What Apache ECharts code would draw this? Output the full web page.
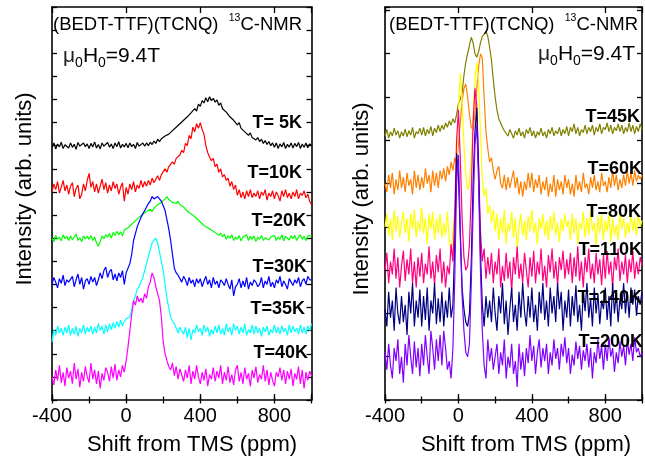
<!DOCTYPE html>
<html><head><meta charset="utf-8">
<script src="https://cdn.jsdelivr.net/npm/echarts@6/dist/echarts.min.js"></script>
<style>html,body{margin:0;padding:0;background:#fff}#c{width:645px;height:464px}</style>
</head><body><div id="c"></div>
<script>
// ---------- data ----------
const xTickLabels = ['-400', '0', '400', '800'];

// chemical shift (ppm), shared by both panels
const shift = [-400,-390,-380,-370,-360,-350,-340,-330,-320,-310,
  -300,-290,-280,-270,-260,-250,-240,-230,-220,-210,
  -200,-190,-180,-170,-160,-150,-140,-130,-120,-110,
  -100,-90,-80,-70,-60,-50,-40,-30,-20,-10,
  0,10,20,30,40,50,60,70,80,90,
  100,110,120,130,140,150,160,170,180,190,
  200,210,220,230,240,250,260,270,280,290,
  300,310,320,330,340,350,360,370,380,390,
  400,410,420,430,440,450,460,470,480,490,
  500,510,520,530,540,550,560,570,580,590,
  600,610,620,630,640,650,660,670,680,690,
  700,710,720,730,740,750,760,770,780,790,
  800,810,820,830,840,850,860,870,880,890,
  900,910,920,930,940,950,960,970,980,990,
  1000];

const labelsL = ['T= 5K', 'T=10K', 'T=20K', 'T=30K', 'T=35K', 'T=40K'];

const t5K = [10.93,11.12,10.86,11.07,10.95,11.15,10.88,11.04,11.1,10.9,
  11.12,10.93,11.06,10.84,11.14,10.98,10.91,11.12,10.96,11.08,
  10.88,11.1,10.95,11.16,10.9,11.05,10.86,11.12,10.98,10.92,
  11.14,10.94,11.07,10.88,11.12,10.96,11.17,10.9,11.06,10.95,
  11.1,10.91,11.12,10.96,11.06,10.88,11.14,10.98,10.94,11.12,
  10.98,11.12,11.0,11.15,11.05,11.2,11.1,11.28,11.18,11.3,
  11.25,11.42,11.35,11.5,11.45,11.65,11.58,11.8,11.72,11.95,
  11.9,12.1,12.05,12.25,12.2,12.42,12.35,12.6,12.5,12.8,
  12.7,12.95,12.85,13.08,12.9,13.12,12.95,13.05,12.88,12.98,
  12.75,12.85,12.6,12.68,12.45,12.5,12.25,12.32,12.1,12.15,
  11.9,12.0,11.75,11.82,11.6,11.65,11.45,11.55,11.35,11.42,
  11.25,11.35,11.18,11.28,11.1,11.22,11.05,11.18,11.0,11.12,
  10.93,11.12,10.88,11.08,10.95,11.14,10.88,11.06,10.94,11.12,
  10.9,11.1,10.96,11.14,10.88,11.07,10.93,11.12,10.91,11.08,
  11.0];
const t10K = [9.0,9.35,9.1,9.45,8.95,9.2,9.5,9.05,9.3,8.9,
  9.25,9.4,8.8,9.15,9.3,8.7,8.9,9.35,9.05,9.5,
  9.8,9.2,9.45,9.0,9.35,8.95,9.25,9.55,9.1,9.4,
  8.95,9.3,9.05,9.45,9.15,9.35,8.9,9.2,9.4,8.6,
  9.2,8.9,9.35,9.1,9.45,9.0,9.3,9.15,9.5,9.2,
  9.45,9.25,9.5,9.3,9.6,9.4,9.55,9.7,9.5,9.75,
  9.7,10.0,9.85,10.1,10.05,10.3,10.2,10.45,10.4,10.6,
  10.8,10.7,11.1,11.0,11.45,11.3,11.8,11.6,11.95,11.75,
  12.0,11.7,11.5,11.0,10.7,10.5,10.35,10.45,10.1,10.2,
  9.85,10.0,9.65,9.75,9.5,9.6,9.25,9.45,9.1,9.3,
  8.85,9.1,8.75,9.0,8.7,9.05,8.8,9.1,8.75,8.95,
  8.8,9.05,8.7,9.0,8.85,9.1,8.65,8.95,8.8,9.05,
  8.7,9.0,8.85,8.6,9.05,8.8,9.1,8.75,8.95,8.7,
  9.0,8.8,9.1,8.7,8.95,8.85,9.05,8.75,8.9,8.6,
  8.45];
const t20K = [7.0,6.85,7.12,6.95,7.05,6.88,7.15,6.98,7.08,6.9,
  7.1,6.92,7.05,7.18,6.9,7.02,6.85,7.1,6.97,7.08,
  6.95,7.12,6.9,7.05,6.8,6.65,6.85,7.1,6.98,7.15,
  7.05,7.2,7.0,7.25,7.12,7.3,7.15,7.28,7.1,7.35,
  7.3,7.45,7.4,7.6,7.55,7.75,7.7,7.9,7.95,8.05,
  8.0,8.15,8.1,8.25,8.15,8.3,8.25,8.45,8.4,8.55,
  8.6,8.7,8.8,8.68,8.75,8.55,8.62,8.5,8.6,8.45,
  8.4,8.35,8.25,8.3,8.1,8.15,8.0,8.05,7.85,7.9,
  7.7,7.75,7.55,7.62,7.45,7.52,7.35,7.42,7.25,7.32,
  7.12,7.22,7.05,7.18,6.95,7.1,7.0,7.15,6.9,7.05,
  6.95,7.12,6.88,7.05,6.98,7.15,6.9,7.08,6.95,7.1,
  6.85,7.05,6.95,7.12,6.9,7.02,7.1,6.92,7.05,6.98,
  7.12,6.9,7.05,6.95,7.15,6.88,7.08,7.0,6.92,7.1,
  6.98,7.12,6.9,7.05,7.15,6.95,7.08,6.9,7.1,7.02,
  7.1];
const t30K = [5.0,5.3,5.1,4.85,5.25,5.05,5.4,4.95,5.2,5.1,
  5.05,5.35,4.9,5.2,5.45,5.0,5.3,4.8,5.15,5.25,
  5.0,5.35,5.1,5.3,4.95,5.2,5.5,5.25,5.6,5.75,
  5.3,5.55,5.65,5.2,5.45,5.15,5.5,5.3,5.6,5.0,
  5.5,5.7,5.9,6.3,6.9,7.2,7.5,7.7,7.9,8.05,
  8.2,8.35,8.5,8.6,8.8,8.7,8.65,8.8,8.7,8.6,
  8.4,8.2,7.8,7.4,6.9,6.3,5.7,5.5,5.4,5.25,
  5.1,5.35,5.2,4.95,5.3,5.05,5.2,4.9,5.25,5.05,
  5.25,4.9,5.15,5.35,5.0,5.2,4.85,5.3,5.0,5.15,
  4.85,5.2,5.1,4.95,5.25,5.0,4.8,5.2,4.5,4.9,
  5.0,5.25,4.85,5.15,4.9,5.3,4.8,5.1,4.95,5.2,
  5.1,4.9,5.0,5.3,4.85,5.15,5.0,5.35,4.9,5.1,
  4.85,5.2,5.05,5.35,4.9,5.15,5.0,4.8,5.25,5.1,
  4.95,5.2,5.05,5.3,4.9,5.15,5.25,5.0,5.35,5.2,
  5.2];
const t35K = [2.5,3.05,2.8,3.2,2.9,3.1,2.8,3.15,2.9,3.25,
  2.8,3.1,2.85,3.2,2.75,3.1,2.9,3.25,2.85,3.15,
  2.95,3.2,2.85,3.15,2.9,3.3,3.0,3.2,2.85,3.25,
  2.95,3.3,3.05,3.35,3.1,3.4,3.15,3.45,3.2,3.4,
  3.5,3.45,3.6,3.9,4.3,4.5,4.8,4.9,5.1,5.3,
  5.6,5.9,6.2,6.5,6.8,6.9,7.0,6.8,6.4,6.0,
  5.6,5.0,4.4,4.0,3.6,3.4,3.3,3.1,2.9,3.15,
  3.2,2.85,3.15,2.7,3.1,2.6,3.05,2.9,3.25,2.95,
  3.1,2.8,3.25,2.95,3.15,2.75,3.05,2.85,3.2,2.9,
  3.25,2.85,3.1,2.8,3.3,2.95,3.15,2.8,3.3,3.0,
  3.2,2.85,3.15,2.9,3.3,2.8,3.05,2.9,3.25,2.85,
  3.2,2.9,3.1,2.75,3.15,2.95,3.2,2.8,3.05,2.9,
  3.25,2.9,3.15,2.85,3.2,2.95,3.1,2.8,3.25,2.9,
  3.2,2.95,3.1,2.85,3.25,2.9,3.15,2.85,3.2,3.0,
  3.3];
const t40K = [1.0,0.65,1.3,0.85,1.5,0.75,1.2,0.6,1.4,0.95,
  1.25,0.7,1.6,0.9,1.35,0.55,1.2,0.8,1.45,1.0,
  0.75,1.6,0.9,1.3,0.7,1.25,0.5,1.15,0.85,1.4,
  1.2,0.8,1.45,0.95,1.55,0.85,1.3,1.0,1.5,1.2,
  1.7,2.3,3.0,3.7,4.3,4.1,4.5,4.25,4.4,4.2,
  4.6,4.4,4.9,5.1,5.5,5.3,4.9,4.6,4.3,3.6,
  2.5,2.0,1.7,1.45,1.3,1.6,1.05,1.45,0.9,1.35,
  1.4,0.8,1.3,0.95,1.5,0.7,1.25,0.9,1.5,1.0,
  0.7,1.2,0.85,1.35,0.6,1.1,0.9,1.4,0.8,1.25,
  0.95,1.5,0.7,1.2,0.85,1.45,0.75,1.1,0.65,1.3,
  1.5,0.8,1.2,0.7,1.4,0.9,1.15,0.6,1.3,0.95,
  1.45,0.75,1.1,0.9,1.5,0.8,1.3,0.65,1.2,0.85,
  0.6,1.2,1.0,1.4,0.85,1.3,0.7,1.25,0.9,1.35,
  0.6,1.15,0.9,1.45,0.7,1.3,0.5,1.2,0.85,1.25,
  1.05];

const labelsR = ['T=45K', 'T=60K', 'T=80K', 'T=110K', 'T=140K', 'T=200K'];

const t45K = [6.1,6.25,6.05,6.2,6.1,6.28,6.12,6.22,6.05,6.2,
  6.1,6.26,6.08,6.22,6.12,6.3,6.05,6.2,6.15,6.28,
  6.12,6.3,6.1,6.25,6.15,6.32,6.1,6.28,6.18,6.35,
  6.2,6.35,6.25,6.4,6.3,6.45,6.35,6.5,6.4,6.6,
  6.85,6.95,7.1,7.5,7.8,8.0,8.2,8.38,8.25,8.0,
  7.92,8.05,8.25,8.4,8.45,8.52,8.4,8.15,7.85,7.4,
  7.0,6.7,6.5,6.4,6.3,6.22,6.2,6.1,6.25,6.15,
  6.05,6.22,6.12,6.28,6.1,6.2,6.05,6.25,6.15,6.3,
  6.1,6.22,6.05,6.2,6.12,6.28,6.1,6.2,6.05,6.25,
  6.15,6.3,6.1,6.22,6.15,6.3,6.1,6.25,6.15,6.32,
  6.1,6.3,6.2,6.38,6.15,6.3,6.1,6.25,6.18,6.35,
  6.15,6.3,6.2,6.35,6.12,6.3,6.2,6.38,6.15,6.3,
  6.25,6.4,6.2,6.35,6.15,6.3,6.22,6.38,6.2,6.35,
  6.15,6.3,6.2,6.4,6.2,6.35,6.15,6.32,6.2,6.38,
  6.25];
const t60K = [5.0,4.8,5.2,4.9,5.25,4.75,5.1,4.85,5.3,4.9,
  5.15,4.8,5.25,4.95,5.1,4.75,5.3,4.9,5.2,4.85,
  5.15,4.9,5.35,5.0,5.2,4.8,5.3,4.95,5.25,4.9,
  5.3,5.1,5.35,5.05,5.4,5.2,5.5,5.3,5.6,5.45,
  5.9,6.4,6.9,7.2,7.3,7.0,6.6,6.3,6.25,6.6,
  7.2,7.7,8.0,7.9,7.0,6.2,5.8,5.5,5.6,5.3,
  5.1,5.3,5.4,5.0,4.9,5.2,4.85,5.15,4.9,5.1,
  5.3,4.9,5.15,4.75,5.05,4.7,5.05,4.85,5.25,4.9,
  5.25,4.8,5.1,4.9,5.2,4.75,5.05,4.85,5.15,4.7,
  5.0,4.8,5.2,4.7,5.1,4.85,5.05,4.75,5.2,4.9,
  5.1,4.75,5.0,4.7,5.2,4.85,5.05,4.8,5.25,4.9,
  5.0,4.75,5.15,4.9,5.2,4.85,5.05,4.8,5.25,4.95,
  5.05,4.8,5.15,4.9,5.3,4.95,5.2,4.85,5.1,4.9,
  5.2,4.95,5.3,5.0,5.25,4.95,5.3,5.05,5.2,5.1,
  5.2];
const t80K = [4.0,4.3,3.8,4.2,3.7,4.4,3.9,4.25,3.75,4.1,
  4.35,3.85,4.2,3.65,4.3,3.95,4.4,3.75,4.15,3.9,
  4.45,3.85,4.2,3.6,4.3,3.95,4.35,3.7,4.2,3.85,
  4.3,3.75,4.1,3.8,4.35,3.7,3.4,3.9,4.3,5.2,
  6.6,7.55,6.9,5.9,5.2,4.85,5.0,5.6,6.6,7.4,
  7.8,7.3,6.2,5.1,4.7,4.9,4.3,4.5,4.1,4.4,
  3.9,4.3,3.7,4.2,3.85,4.4,3.6,4.1,3.9,4.35,
  3.75,4.2,3.5,4.0,4.3,3.8,4.15,3.7,4.25,3.9,
  4.4,3.85,4.1,3.6,4.2,3.95,4.3,3.8,4.15,3.7,
  4.25,3.9,4.35,3.8,4.1,3.65,4.2,3.9,4.3,4.0,
  4.15,3.7,4.3,3.85,4.2,3.6,4.1,3.95,4.35,3.75,
  4.2,3.8,4.4,3.9,4.1,3.55,4.25,3.85,4.3,3.7,
  4.15,3.9,4.35,3.65,4.2,3.8,4.05,3.7,4.3,3.95,
  4.2,3.75,4.1,3.85,4.35,3.9,4.2,3.8,4.3,4.0,
  4.15];
const t110K = [3.0,3.4,2.7,3.2,2.9,3.5,2.8,3.3,2.6,3.1,
  3.45,2.75,3.25,2.9,3.5,2.7,3.2,2.6,3.3,2.85,
  3.4,2.7,3.15,2.9,3.55,2.8,3.2,2.65,3.35,2.95,
  3.5,2.7,3.2,2.6,3.1,2.9,3.6,3.2,4.3,6.0,
  6.7,5.6,4.2,3.3,3.0,3.1,3.6,4.8,6.4,7.2,
  6.8,5.4,3.9,3.2,3.5,2.8,3.3,2.9,3.4,2.7,
  3.2,2.9,3.5,2.6,3.1,2.75,3.4,2.8,3.2,2.5,
  3.3,2.9,3.55,2.8,3.15,2.7,3.4,3.0,2.6,3.3,
  2.85,3.45,2.7,3.2,2.9,3.5,2.75,3.1,2.6,3.35,
  2.95,3.5,2.8,3.2,2.65,3.3,3.0,3.45,2.8,3.25,
  2.9,3.4,2.7,3.3,2.85,3.55,2.75,3.2,2.6,3.3,
  2.95,3.5,2.8,3.15,2.7,3.4,2.9,3.25,2.65,3.35,
  2.8,3.45,2.9,3.2,2.6,3.3,3.0,3.5,2.75,3.2,
  2.9,3.35,2.7,3.25,2.95,3.45,2.8,3.2,2.9,3.3,
  3.1];
const t140K = [2.1,1.7,2.5,1.9,2.3,1.6,2.6,2.0,1.75,2.4,
  1.8,2.2,1.5,2.5,2.0,2.7,1.7,2.3,1.9,2.55,
  1.7,2.4,1.85,2.6,1.6,2.3,2.0,2.7,1.75,2.35,
  1.8,2.5,1.7,2.3,1.9,2.6,1.9,2.2,3.6,5.7,
  5.2,3.8,2.6,2.1,1.8,1.7,2.0,3.2,5.0,6.2,
  6.75,5.3,3.4,2.2,1.7,2.4,1.9,2.3,1.8,2.6,
  2.0,1.6,2.4,2.0,2.7,1.75,2.3,1.5,2.1,2.6,
  1.8,2.2,1.6,2.5,1.9,2.7,2.05,1.7,2.4,1.9,
  2.6,1.8,2.2,1.6,2.5,2.0,2.7,1.85,2.3,1.7,
  2.6,2.0,2.4,1.8,2.7,2.1,2.5,1.6,2.3,1.9,
  2.55,1.7,2.4,1.95,2.65,1.8,2.2,1.6,2.5,2.05,
  2.7,1.9,2.35,1.7,2.6,2.0,2.45,1.75,2.3,2.1,
  2.6,1.85,2.4,1.7,2.7,2.0,2.5,1.8,2.35,2.1,
  2.7,2.0,2.5,1.9,2.6,2.2,2.55,1.95,2.4,2.2,
  2.5];
const t200K = [1.1,0.7,1.3,0.8,0.5,1.2,0.9,1.4,0.6,1.0,
  0.4,1.3,0.8,1.5,1.0,0.6,1.35,0.75,1.2,0.55,
  1.3,0.8,1.5,1.0,0.6,1.6,1.2,0.7,1.4,0.9,
  1.5,0.8,1.6,1.2,0.7,0.9,0.5,1.2,2.8,5.0,
  5.66,4.0,2.4,1.6,1.1,1.0,1.3,2.7,4.4,5.9,
  6.35,5.0,3.0,1.6,0.8,0.5,1.4,0.9,1.2,0.7,
  1.0,1.3,0.6,1.1,0.8,1.4,0.5,1.0,0.75,1.3,
  0.6,0.9,0.3,1.3,0.7,1.1,0.55,1.2,0.85,1.5,
  0.9,1.25,0.6,1.1,1.4,0.75,1.2,0.9,1.3,0.6,
  1.1,0.8,1.4,0.95,1.2,0.7,1.3,1.0,1.45,0.85,
  1.2,0.6,1.05,0.8,1.35,0.95,1.25,0.7,1.15,0.9,
  1.3,0.75,1.2,0.5,1.1,0.85,1.4,0.95,1.25,0.7,
  1.3,0.9,1.45,1.0,1.2,0.65,1.1,0.85,1.35,1.0,
  1.25,0.8,1.4,1.05,1.3,0.9,1.45,1.1,1.2,1.0,
  1.1];

const seriesL = [t5K, t10K, t20K, t30K, t35K, t40K];
const seriesR = [t45K, t60K, t80K, t110K, t140K, t200K];
const colorsL = ['#000000', '#FF0000', '#00FF00', '#0000FF', '#00FFFF', '#FF00FF'];
const colorsR = ['#808000', '#FF8000', '#FFFF00', '#FF0080', '#000080', '#8000FF'];

// ---------- chart ----------
const FONT = '"Liberation Sans", Arial, Helvetica, sans-serif';
const chart = echarts.init(document.getElementById('c'), null, {renderer: 'canvas'});

function fmt(v) {
  const s = String(Math.round(v));
  return xTickLabels.indexOf(s) >= 0 ? s : '';
}
function xAxes(g) {
  const line = {show: true, onZero: false, lineStyle: {color: '#000', width: 1.6}};
  const majT = {show: true, inside: true, length: 6, lineStyle: {color: '#000', width: 1.3}};
  const minT = {show: true, inside: true, length: 3.5, lineStyle: {color: '#000', width: 1.3}};
  const base = {type: 'value', gridIndex: g, min: -400, max: 1000, splitLine: {show: false}};
  return [
    Object.assign({}, base, {position: 'bottom', interval: 400, axisLine: line, axisTick: majT,
      axisLabel: {show: true, margin: 6, fontSize: 20, fontFamily: FONT, color: '#000', formatter: fmt}}),
    Object.assign({}, base, {position: 'bottom', interval: 200, axisLine: {show: false}, axisTick: minT, axisLabel: {show: false}}),
    Object.assign({}, base, {position: 'top', interval: 400, axisLine: line, axisTick: majT, axisLabel: {show: false}}),
    Object.assign({}, base, {position: 'top', interval: 200, axisLine: {show: false}, axisTick: minT, axisLabel: {show: false}})
  ];
}
function yAxes(g, max) {
  const line = {show: true, onZero: false, lineStyle: {color: '#000', width: 1.6}};
  const t = {show: true, inside: true, length: 5, lineStyle: {color: '#000', width: 1.3}};
  const base = {type: 'value', gridIndex: g, min: 0, max: max, interval: 1, splitLine: {show: false},
    axisLine: line, axisTick: t, axisLabel: {show: false}};
  return [Object.assign({}, base, {position: 'left'}), Object.assign({}, base, {position: 'right'})];
}
function mkSeries(g, xs, arrs, names, colors) {
  return arrs.map((arr, k) => ({
    type: 'line', name: names[k], xAxisIndex: g * 4, yAxisIndex: g * 2,
    data: xs.map((x, i) => [x, arr[i]]),
    symbol: 'none', showSymbol: false, silent: true, animation: false,
    lineStyle: {color: colors[k], width: 1.2}, itemStyle: {color: colors[k]}, z: 2 + k
  }));
}

const titleRich = {
  n: {fontSize: 18.5, lineHeight: 24, fontFamily: FONT, fill: '#000'},
  p: {fontSize: 10.5, lineHeight: 16, verticalAlign: 'top', fontFamily: FONT, fill: '#000'}
};
const fieldRich = {
  m: {fontSize: 21, lineHeight: 28, fontFamily: FONT, fill: '#222'},
  n: {fontSize: 21, lineHeight: 28, fontFamily: FONT, fill: '#000'},
  s: {fontSize: 14, lineHeight: 11, verticalAlign: 'bottom', fontFamily: FONT, fill: '#000'}
};
function txt(x, y, text, opts) {
  return Object.assign({type: 'text', x: x, y: y, silent: true, z: 100,
    style: Object.assign({text: text, fontFamily: FONT, fill: '#000', align: 'left', verticalAlign: 'middle'}, opts || {})});
}
const tPosL = [[302, 123], [302, 173], [306, 221], [307, 267], [305, 309], [308, 353]];
const tPosR = [[640, 117], [642, 169], [641, 212], [642, 250], [642, 298], [643, 342]];

const graphics = [
  txt(53, 25, '{n|(BEDT-TTF)(TCNQ)  }{p|13}{n|C-NMR}', {rich: titleRich}),
  txt(389, 25, '{n|(BEDT-TTF)(TCNQ)  }{p|13}{n|C-NMR}', {rich: titleRich}),
  txt(63, 56, '{m|μ}{s|0}{n|H}{s|0}{n|=9.4T}', {rich: fieldRich}),
  txt(538, 54, '{m|μ}{s|0}{n|H}{s|0}{n|=9.4T}', {rich: fieldRich}),
  txt(192, 445, 'Shift from TMS (ppm)', {fontSize: 22, align: 'center'}),
  txt(526, 445, 'Shift from TMS (ppm)', {fontSize: 22, align: 'center'}),
  Object.assign(txt(25, 189, 'Intensity (arb. units)', {fontSize: 22, align: 'center'}), {rotation: Math.PI / 2}),
  Object.assign(txt(362, 199, 'Intensity (arb. units)', {fontSize: 22, align: 'center'}), {rotation: Math.PI / 2})
];
labelsL.forEach((s, k) => graphics.push(txt(tPosL[k][0], tPosL[k][1], s, {fontSize: 18, fontWeight: 'bold', align: 'right'})));
labelsR.forEach((s, k) => graphics.push(txt(tPosR[k][0], tPosR[k][1], s, {fontSize: 18, fontWeight: 'bold', align: 'right'})));

chart.setOption({
  animation: false,
  backgroundColor: '#fff',
  grid: [
    {left: 52, top: 7, width: 259.5, height: 393, containLabel: false},
    {left: 385, top: 7, width: 258.5, height: 393, containLabel: false}
  ],
  xAxis: xAxes(0).concat(xAxes(1)),
  yAxis: yAxes(0, 17).concat(yAxes(1, 9.08)),
  series: mkSeries(0, shift, seriesL, labelsL, colorsL).concat(mkSeries(1, shift, seriesR, labelsR, colorsR)),
  graphic: graphics
});
</script>
</body></html>
